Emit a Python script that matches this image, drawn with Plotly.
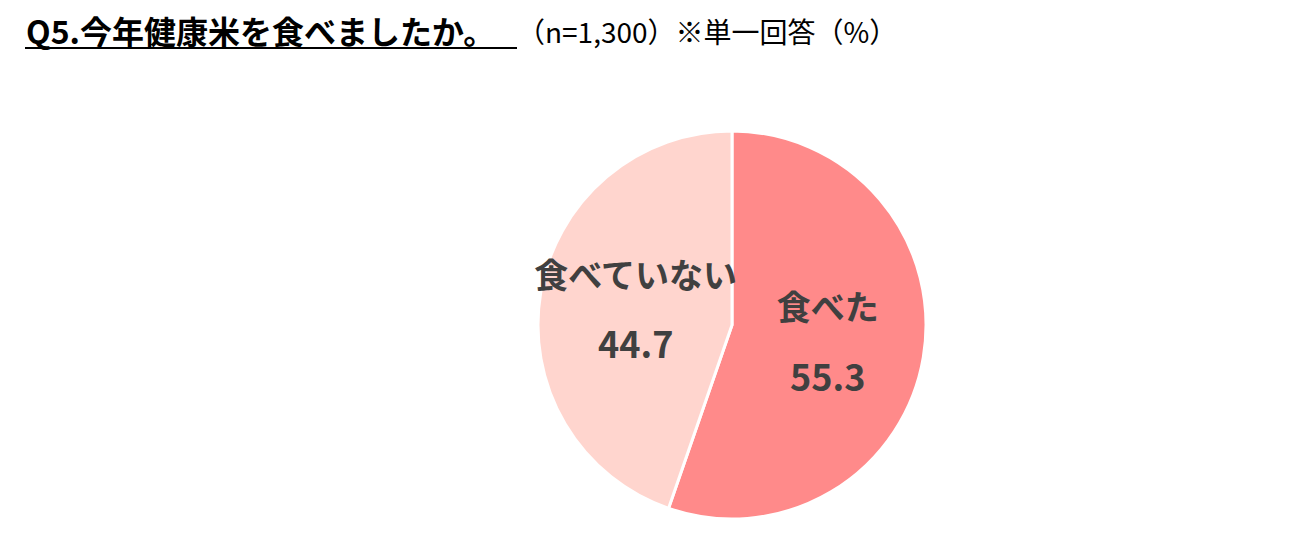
import plotly.graph_objects as go

# Survey result (single answer, %)
labels = ["食べた", "食べていない"]
values = [55.3, 44.7]
colors = ["#FF8A8A", "#FFD5CE"]

title_main = "Q5.今年健康米を食べましたか。"
title_sub = "（n=1,300）※単一回答（%）"

W, H = 1308, 535
OFF = 8  # page body margin of the html output
cx, cy, r = 732 - OFF, 325 - OFF, 194  # pie centre / radius in pixels

fig = go.Figure()

fig.add_trace(go.Pie(
    labels=labels,
    values=values,
    sort=False,
    direction="clockwise",
    rotation=0,
    marker=dict(colors=colors, line=dict(color="white", width=3)),
    texttemplate="<span style='font-size:34px'><b>%{label}</b></span><br> <br>"
                 "<span style='font-size:36px'><b>%{value}</b></span>",
    textposition="inside",
    insidetextorientation="horizontal",
    textfont=dict(family="Noto Sans CJK JP", size=27, color="#404040"),
    hoverinfo="skip",
    showlegend=False,
    domain=dict(x=[(cx - r) / W, (cx + r) / W],
                y=[(H - cy - r) / H, (H - cy + r) / H]),
))

# Title + underline
fig.add_annotation(
    text=f"<b>{title_main}</b>", x=(24 - OFF) / W, y=1 - (30 - OFF) / H,
    xref="paper", yref="paper", xanchor="left", yanchor="middle",
    showarrow=False, font=dict(family="Noto Sans CJK JP", size=32, color="black"),
)
fig.add_annotation(
    text=title_sub, x=(515 - OFF) / W, y=1 - (31 - OFF) / H,
    xref="paper", yref="paper", xanchor="left", yanchor="middle",
    showarrow=False, font=dict(family="Noto Sans CJK JP", size=28, color="black"),
)
fig.add_shape(type="line", xref="paper", yref="paper",
              x0=(25 - OFF) / W, x1=(517 - OFF) / W,
              y0=1 - (48 - OFF) / H, y1=1 - (48 - OFF) / H,
              line=dict(color="black", width=2))

fig.update_layout(
    width=W, height=H,
    margin=dict(l=0, r=0, t=0, b=0),
    paper_bgcolor="white",
    plot_bgcolor="white",
    uniformtext=dict(minsize=27, mode="show"),
)

fig.write_html("out.html")
